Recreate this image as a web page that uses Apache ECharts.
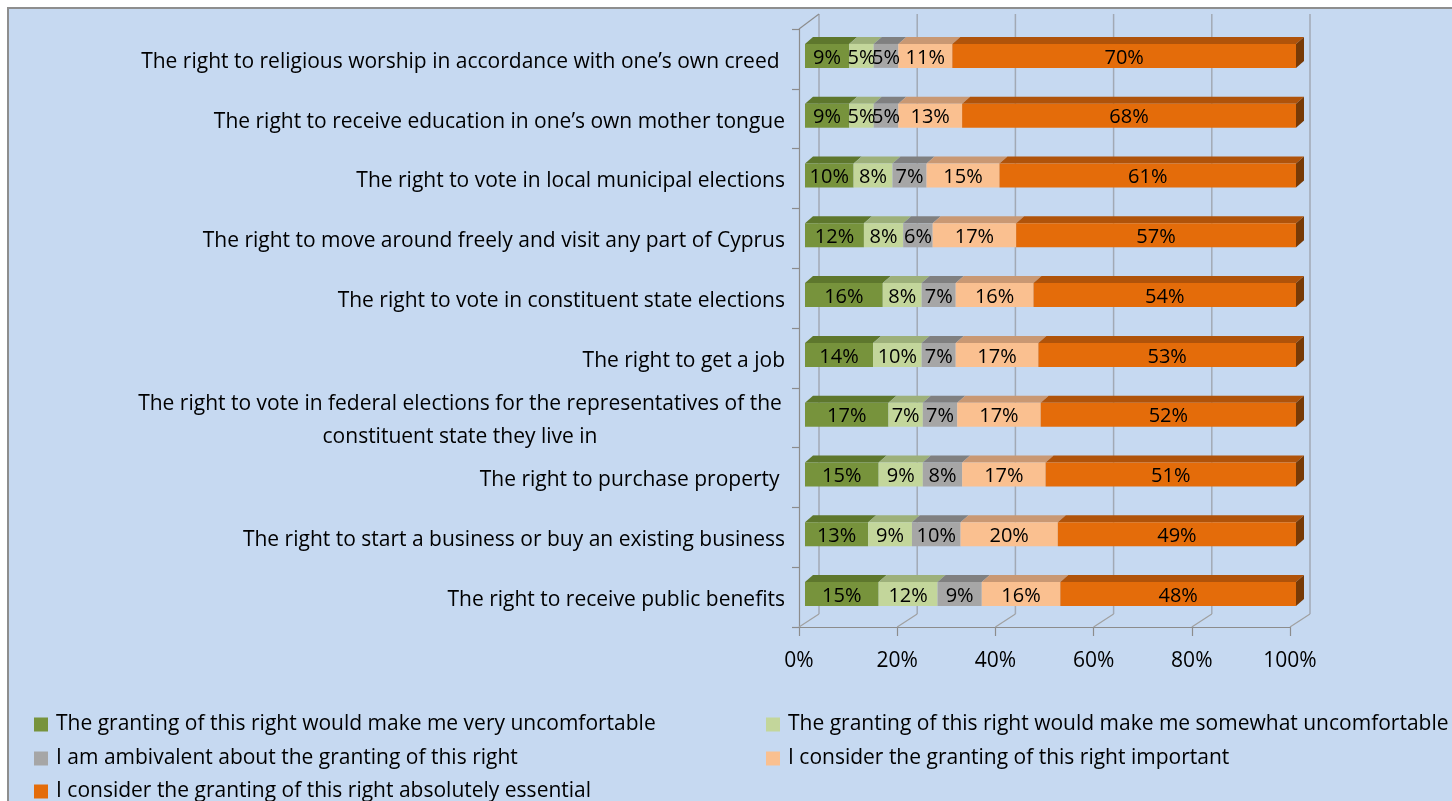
<!DOCTYPE html>
<html>
<head>
<meta charset="utf-8">
<script src="https://cdn.jsdelivr.net/npm/echarts@6/dist/echarts.min.js"></script>
<style>
html,body{margin:0;padding:0;background:#ffffff;}
#c{width:1452px;height:801px;}
</style>
</head>
<body>
<div id="c"></div>
<script>
// ---- Data (top row first) ----
const categories = [
  "The right to religious worship in accordance with one\u2019s own creed ",
  "The right to receive education in one\u2019s own mother tongue",
  "The right to vote in local municipal elections",
  "The right to move around freely and visit any part of Cyprus",
  "The right to vote in constituent state elections",
  "The right to get a job",
  "The right to vote in federal elections for the representatives of the\nconstituent state they live in",
  "The right to purchase property ",
  "The right to start a business or buy an existing business",
  "The right to receive public benefits"
];
const seriesNames = [
  "The granting of this right would make me very uncomfortable",
  "The granting of this right would make me somewhat uncomfortable",
  "I am ambivalent about the granting of this right",
  "I consider the granting of this right important",
  "I consider the granting of this right absolutely essential"
];
const veryUncomfortable     = [9, 9, 10, 12, 16, 14, 17, 15, 13, 15];
const somewhatUncomfortable = [5, 5, 8, 8, 8, 10, 7, 9, 9, 12];
const ambivalent            = [5, 5, 7, 6, 7, 7, 7, 8, 10, 9];
const important             = [11, 13, 15, 17, 16, 17, 17, 17, 20, 16];
const essential             = [70, 68, 61, 57, 54, 53, 52, 51, 49, 48];
const tickValues = [0, 20, 40, 60, 80, 100];

// ---- Styles ----
const FONT = 'Open Sans';
const FS = 21;
const FS_DATA = 20;
const frontColors = ['#77933C', '#C3D69B', '#A6A6A6', '#FAC090', '#E46C0A'];
const topColors   = ['#5E772D', '#9DB07A', '#808080', '#C99873', '#B0530A'];
const sideColors  = ['#4A5E22', '#7E8E60', '#666666', '#A57A5B', '#773A06'];
const allSeries = [veryUncomfortable, somewhatUncomfortable, ambivalent, important, essential];

const DX = 8, DY = 7, OFF = 6, HALF = 12, YSHIFT = -3;
const WALL_DX = 20, WALL_TOP = 14, FLOOR_DY = 13;

// build stacked (100%) segments
const segData = allSeries.map(() => []);
categories.forEach((c, i) => {
  const total = allSeries.reduce((s, arr) => s + arr[i], 0);
  let cum = 0;
  allSeries.forEach((arr, k) => {
    const start = cum / total * 100;
    cum += arr[i];
    const end = cum / total * 100;
    segData[k].push([i, start, end, arr[i]]);
  });
});

function makeBarSeries(k) {
  return {
    type: 'custom',
    name: seriesNames[k],
    itemStyle: { color: frontColors[k] },
    z: 5,
    encode: { x: [1, 2], y: 0 },
    data: segData[k],
    renderItem: function (params, api) {
      const cat = api.value(0), s = api.value(1), e = api.value(2), raw = api.value(3);
      const p0 = api.coord([s, cat]);
      const p1 = api.coord([e, cat]);
      const x0 = p0[0] + OFF, x1 = p1[0] + OFF;
      const yc = p0[1] + YSHIFT;
      const yT = yc - HALF, yB = yc + HALF;
      const children = [
        { type: 'polygon', shape: { points: [[x0, yT], [x1, yT], [x1 + DX, yT - DY], [x0 + DX, yT - DY]] },
          style: { fill: topColors[k] } },
        { type: 'rect', shape: { x: x0, y: yT, width: x1 - x0, height: yB - yT },
          style: { fill: frontColors[k] } }
      ];
      if (k === allSeries.length - 1) {
        children.push({ type: 'polygon', shape: { points: [[x1, yT], [x1 + DX, yT - DY], [x1 + DX, yB - DY], [x1, yB]] },
          style: { fill: sideColors[k] } });
      }
      children.push({ type: 'text', z2: 10,
        style: { text: raw + '%', x: (x0 + x1) / 2, y: yc + 2, align: 'center', verticalAlign: 'middle',
          fill: '#000000', font: FS_DATA + 'px "' + FONT + '"' } });
      return { type: 'group', children: children };
    }
  };
}

const wallSeries = {
  type: 'custom',
  name: 'walls',
  silent: true,
  z: 1,
  encode: { x: 0 },
  data: tickValues.map(v => [v]),
  renderItem: function (params, api) {
    const v = api.value(0);
    const x = api.coord([v, 0])[0];
    const cs = params.coordSys;
    const bottom = cs.y + cs.height;
    const lineStyle = { stroke: '#A2A9B4', lineWidth: 1.5, fill: null };
    const children = [
      { type: 'line', shape: { x1: x + WALL_DX, y1: WALL_TOP, x2: x + WALL_DX, y2: bottom - FLOOR_DY }, style: lineStyle },
      { type: 'line', shape: { x1: x + WALL_DX, y1: bottom - FLOOR_DY, x2: x, y2: bottom }, style: { stroke: '#A0A0A0', lineWidth: 1.2 } }
    ];
    if (v === tickValues[0]) {
      children.push({ type: 'line', shape: { x1: x, y1: cs.y, x2: x + WALL_DX, y2: WALL_TOP }, style: { stroke: '#8C8C8C', lineWidth: 1.2 } });
    }
    return { type: 'group', children: children };
  }
};

// legend layout: [seriesIndex, left, top]
const legendPlace = [[0, 34, 714], [1, 766, 714], [2, 34, 748], [3, 766, 748], [4, 34, 781]];
const legends = legendPlace.map(p => ({
  data: [seriesNames[p[0]]],
  orient: 'horizontal', left: p[1], top: p[2], itemWidth: 14, itemHeight: 14,
  icon: 'rect', selectedMode: false, padding: 0,
  textStyle: { fontSize: FS, color: '#000', fontFamily: FONT, padding: [0, 0, 0, 3] }
}));

const chart = echarts.init(document.getElementById('c'), null, { renderer: 'canvas' });
chart.setOption({
  animation: false,
  backgroundColor: '#ffffff',
  textStyle: { fontFamily: FONT },
  graphic: [{
    type: 'rect', z: -10, silent: true,
    shape: { x: 8, y: 8, width: 1480, height: 820 },
    style: { fill: '#C6D9F1', stroke: '#8E8E8E', lineWidth: 2 }
  }],
  grid: { left: 799, top: 29, width: 491, height: 598, containLabel: false },
  xAxis: {
    type: 'value', min: tickValues[0], max: tickValues[tickValues.length - 1], interval: 20,
    axisLine: { show: true, lineStyle: { color: '#8C8C8C', width: 1.2 } },
    axisTick: { show: true, length: 9, lineStyle: { color: '#8C8C8C', width: 1.2 } },
    splitLine: { show: false },
    axisLabel: { formatter: '{value}%', fontSize: FS, color: '#000', margin: 24, fontFamily: FONT }
  },
  yAxis: {
    type: 'category', inverse: true, data: categories,
    axisLine: { show: true, lineStyle: { color: '#8C8C8C', width: 1.2 } },
    axisTick: { show: true, length: 7, lineStyle: { color: '#8C8C8C', width: 1.2 } },
    splitLine: { show: false },
    axisLabel: {
      fontSize: FS, color: '#000', margin: 14, fontFamily: FONT, padding: [6, 0, 0, 0],
      formatter: function (val) {
        const lines = val.split('\n');
        if (lines.length > 1) return lines.map(l => '{c|' + l + '}').join('\n');
        return val;
      },
      rich: { c: { width: 650, align: 'center', fontSize: FS, lineHeight: 33, color: '#000', fontFamily: FONT } }
    }
  },
  legend: legends,
  series: [wallSeries].concat(allSeries.map((_, k) => makeBarSeries(k)))
});
</script>
</body>
</html>
